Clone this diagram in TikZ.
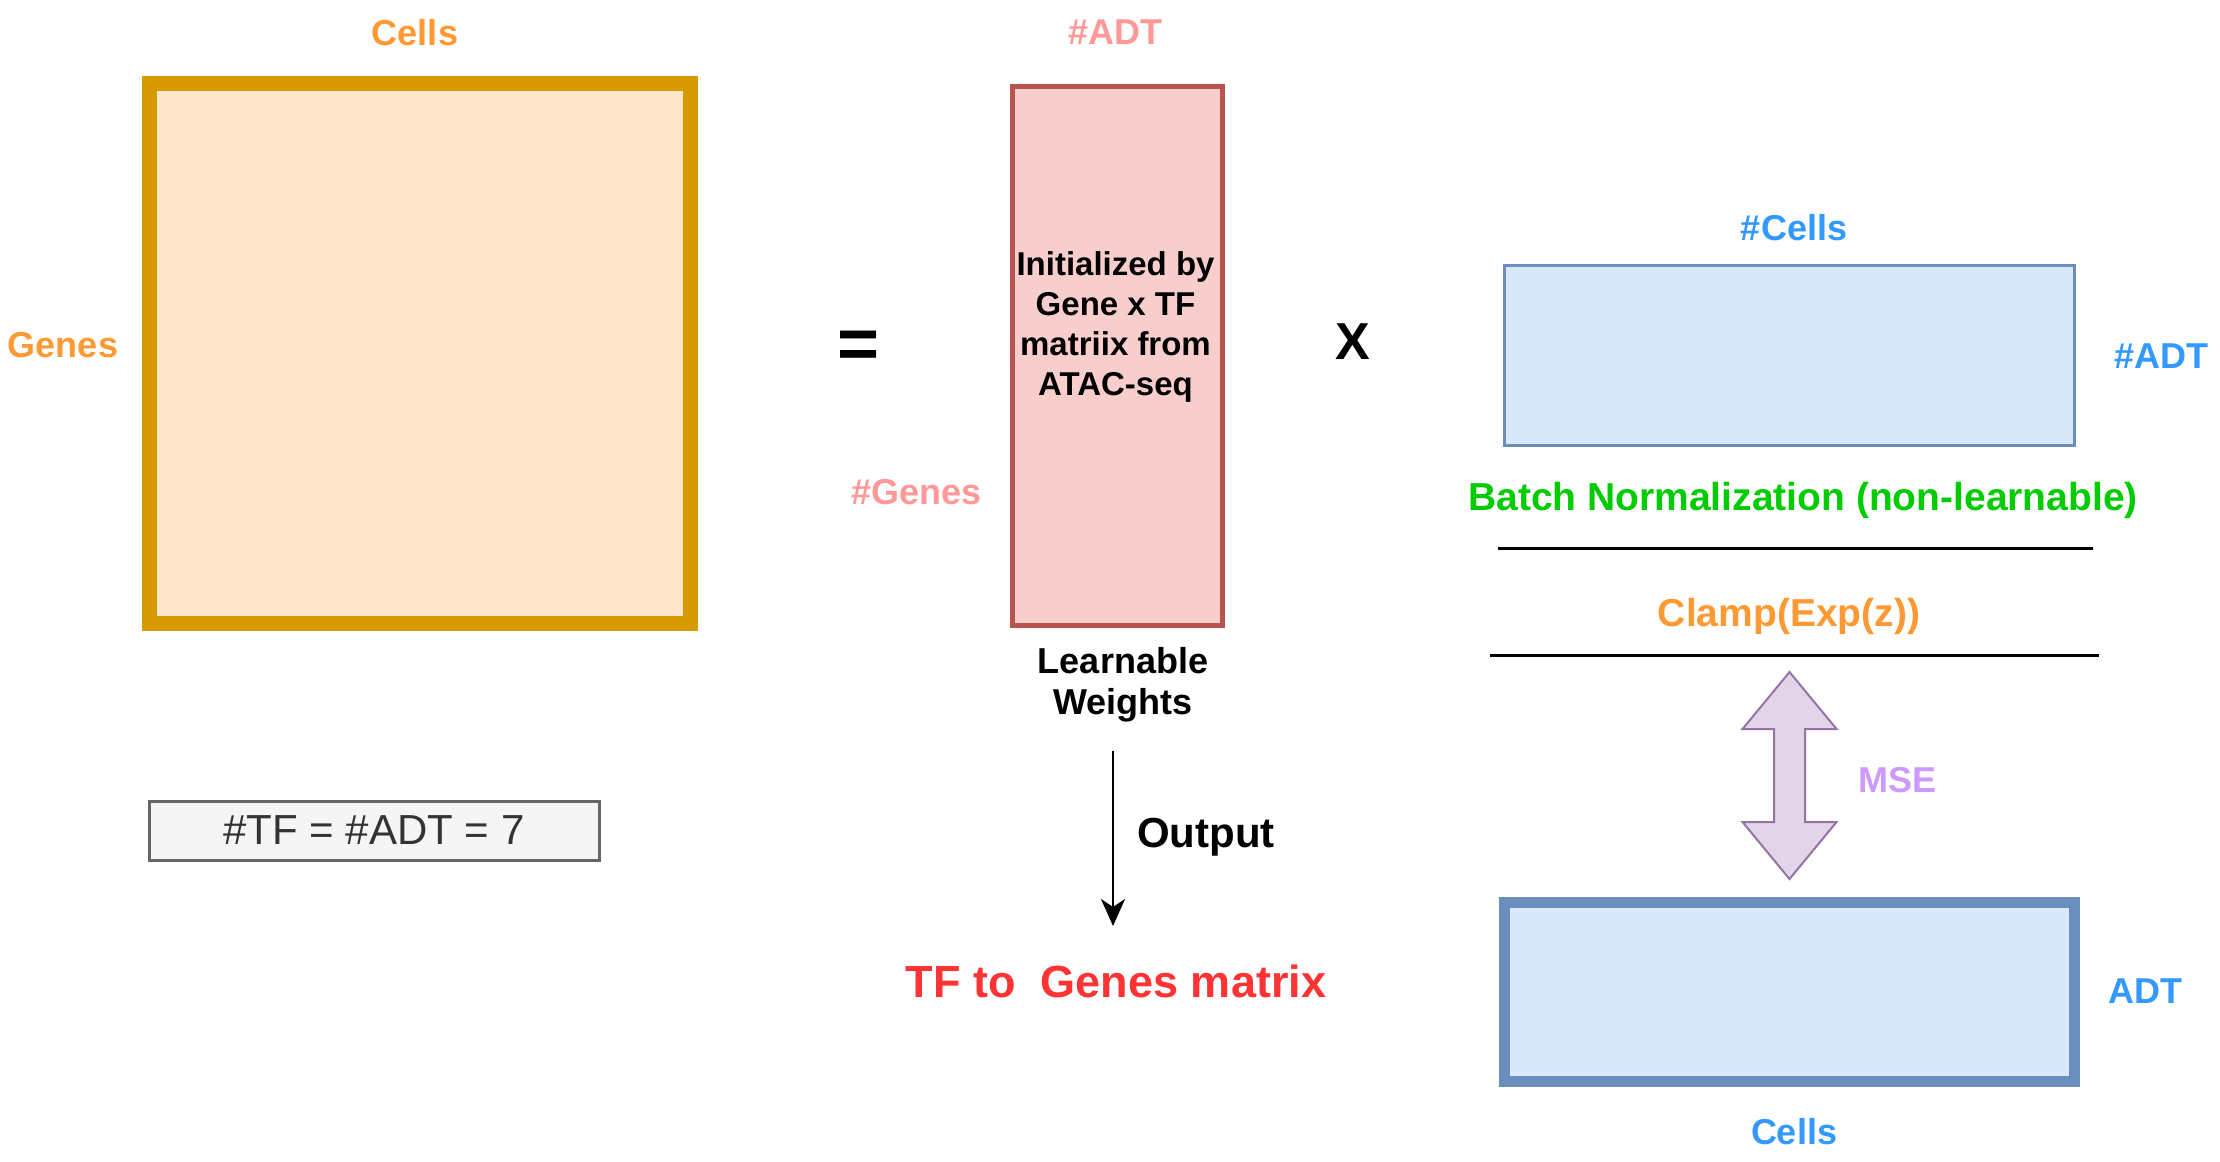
\documentclass[tikz,border=0pt]{standalone}
\usepackage{fontspec}
\setmainfont{Liberation Sans}
\usetikzlibrary{arrows.meta}
\definecolor{lorange}{HTML}{FF9933}
\definecolor{obox}{HTML}{D79B00}
\definecolor{ofill}{HTML}{FFE6CC}
\definecolor{pinkt}{HTML}{FF9999}
\definecolor{pstroke}{HTML}{B85450}
\definecolor{pfill}{HTML}{F8CECC}
\definecolor{bluet}{HTML}{3399FF}
\definecolor{bstroke}{HTML}{6C8EBF}
\definecolor{bfill}{HTML}{DAE8FC}
\definecolor{greent}{HTML}{00CC00}
\definecolor{arrfill}{HTML}{E1D5E7}
\definecolor{arrstroke}{HTML}{9673A6}
\definecolor{mset}{HTML}{CC99FF}
\definecolor{redt}{HTML}{FF3333}
\definecolor{gstroke}{HTML}{666666}
\definecolor{gfill}{HTML}{F5F5F5}
\definecolor{gtext}{HTML}{333333}
\begin{document}
\begin{tikzpicture}[x=0.5pt,y=-0.5pt, inner sep=0pt, outer sep=0pt,
  lbl/.style={font=\bfseries\fontsize{18}{21}\selectfont, anchor=base},
  midfont/.style={font=\bfseries\fontsize{19.5}{22}\selectfont},
  rule/.style={line width=1.5pt, black}]
\useasboundingbox (0,0) rectangle (2220,1161);

% left matrix
\node[lbl, text=lorange] (cellsT) at (415,46) {Cells};
\node[lbl, text=lorange] (genes) at (63,357) {Genes};
\node[draw=obox, fill=ofill, line width=7.5pt, minimum width=270.5pt, minimum height=270pt] (mX) at (419.5,353.5) {};
\node[font=\bfseries\fontsize{36}{40}\selectfont] (eq) at (859,350) {=};

% weights
\node[lbl, text=pinkt] (adtP) at (1115,44.5) {\#ADT};
\node[draw=pstroke, fill=pfill, line width=2.5pt, minimum width=104.75pt, minimum height=269.5pt] (mW) at (1117.25,356) {};
\node[font=\bfseries\fontsize{16.5}{19.9}\selectfont, align=center] (init) at (1115.5,327) {Initialized by\\Gene x TF\\matriix from\\ATAC-seq};
\node[lbl, text=pinkt] (genesP) at (916.5,504) {\#Genes};
\node[font=\bfseries\fontsize{18}{20.3}\selectfont, align=center] (learn) at (1123,684.5) {Learnable\\Weights};
\node[font=\bfseries\fontsize{26}{30}\selectfont] (times) at (1352.5,342) {X};

% right side
\node[lbl, text=bluet] (cellsH) at (1794,240) {\#Cells};
\node[draw=bstroke, fill=bfill, line width=1.5pt, minimum width=285pt, minimum height=90pt] (mZ) at (1789,355) {};
\node[lbl, text=bluet] (adtR) at (2161,368) {\#ADT};
\node[midfont, anchor=base, text=greent] (bn) at (1803,510) {Batch Normalization (non-learnable)};
\coordinate (l1a) at (1498,548.5);
\coordinate (l1b) at (2093,548.5);
\draw[rule] (l1a) -- (l1b);
\node[midfont, anchor=base, text=lorange] (clamp) at (1789,626) {Clamp(Exp(z))};
\coordinate (l2a) at (1490,655.5);
\coordinate (l2b) at (2099,655.5);
\draw[rule, line width=1.75pt] (l2a) -- (l2b);

\draw[draw=arrstroke, fill=arrfill, line width=1pt, line join=miter]
  (1789.5,672) -- (1836.5,729) -- (1805,729) -- (1805,822) -- (1836.5,822) -- (1789.5,879)
  -- (1742.5,822) -- (1774,822) -- (1774,729) -- (1742.5,729) -- cycle;
\node[lbl, text=mset] (mse) at (1897.5,792.5) {MSE};

\node[draw=bstroke, fill=bfill, line width=5.5pt, minimum width=284.75pt, minimum height=89.5pt] (mA) at (1789.25,991.5) {};
\node[lbl, text=bluet] (adtB) at (2145.5,1003.5) {ADT};
\node[lbl, text=bluet] (cellsB) at (1794,1144) {Cells};

% bottom left note
\node[draw=gstroke, fill=gfill, line width=1.5pt, minimum width=225pt, minimum height=29.5pt,
  text=gtext, font=\fontsize{21}{24}\selectfont] (tf) at (374,830.5) {\#TF = \#ADT = 7};

% output
\coordinate (o1) at (1113,750.5);
\coordinate (o2) at (1113,926);
\draw[line width=1.25pt, -{Stealth[length=13.5pt,width=12pt,inset=4pt]}] (o1) -- (o2);
\node[font=\bfseries\fontsize{21}{24}\selectfont, anchor=base west] (out) at (1137,847) {Output};
\node[font=\bfseries\fontsize{22.5}{26}\selectfont, text=redt, anchor=base] (tfg) at (1116,997.5) {TF to\ \ Genes matrix};
\end{tikzpicture}
\end{document}
